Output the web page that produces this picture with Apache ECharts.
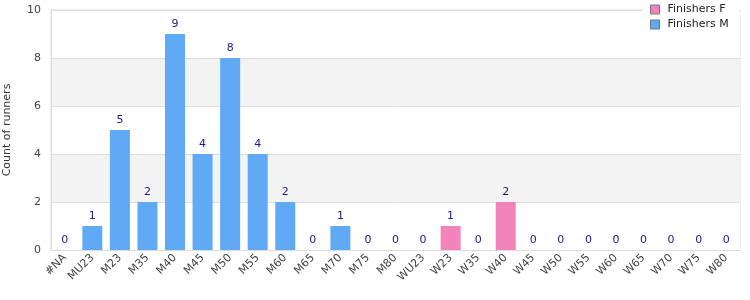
<!DOCTYPE html>
<html>
<head>
<meta charset="utf-8">
<script src="https://cdn.jsdelivr.net/npm/echarts@6/dist/echarts.min.js"></script>
<style>
  html, body { margin: 0; padding: 0; background: #fff; }
  #chart { width: 750px; height: 300px; }
</style>
</head>
<body>
<div id="chart"></div>
<script>
  var categories = ['#NA', 'MU23', 'M23', 'M35', 'M40', 'M45', 'M50', 'M55', 'M60', 'M65', 'M70', 'M75', 'M80',
    'WU23', 'W23', 'W35', 'W40', 'W45', 'W50', 'W55', 'W60', 'W65', 'W70', 'W75', 'W80']
  // null = no bar for that series in that category
  var finishersM = [0, 1, 5, 2, 9, 4, 8, 4, 2, 0, 1, 0, 0,
    null, null, null, null, null, null, null, null, null, null, null, null]
  var finishersF = [null, null, null, null, null, null, null, null, null, null, null, null, null,
    0, 1, 0, 2, 0, 0, 0, 0, 0, 0, 0, 0]
  var yTicks = { min: 0, max: 10, interval: 2 }

  var font = 'DejaVu Sans'
  var chart = echarts.init(document.getElementById('chart'))

  var labelStyle = {
    show: true,
    position: 'top',
    color: '#1a1a8c',
    fontFamily: font,
    fontSize: 11,
    distance: 4
  }

  var option = {
    animation: false,
    color: ['#f383bb', '#60a9f5'],
    grid: {
      left: 51,
      right: 10,
      top: 10,
      bottom: 50,
      outerBoundsMode: 'none',
      containLabel: false,
      show: true,
      borderColor: '#dddddd',
      borderWidth: 1
    },
    legend: {
      orient: 'vertical',
      left: 643,
      top: 2,
      padding: [2, 10, 2, 7],
      backgroundColor: '#fff',
      itemWidth: 9,
      itemHeight: 9,
      itemGap: 4,
      icon: 'rect',
      textStyle: { fontFamily: font, fontSize: 11, color: '#222', padding: [0, 0, 0, 3] },
      itemStyle: { borderColor: '#777', borderWidth: 1 },
      data: ['Finishers F', 'Finishers M']
    },
    xAxis: {
      type: 'category',
      data: categories,
      axisLine: { lineStyle: { color: '#dddddd' } },
      axisTick: { show: false },
      axisLabel: {
        rotate: 45,
        interval: 0,
        color: '#444',
        fontFamily: font,
        fontSize: 11,
        margin: 6
      }
    },
    yAxis: {
      type: 'value',
      min: yTicks.min,
      max: yTicks.max,
      interval: yTicks.interval,
      name: 'Count of runners',
      nameLocation: 'middle',
      nameGap: 38,
      nameTextStyle: { fontFamily: font, fontSize: 11, color: '#333' },
      axisLine: { show: true, lineStyle: { color: '#dddddd' } },
      axisTick: { show: false },
      axisLabel: { color: '#444', fontFamily: font, fontSize: 11, margin: 10 },
      splitLine: { lineStyle: { color: '#dddddd' } },
      splitArea: { show: true, areaStyle: { color: ['#ffffff', '#f3f3f3'] } }
    },
    series: [
      {
        name: 'Finishers F',
        type: 'bar',
        stack: 'total',
        barWidth: 20,
        data: finishersF,
        label: labelStyle
      },
      {
        name: 'Finishers M',
        type: 'bar',
        stack: 'total',
        barWidth: 20,
        data: finishersM,
        label: labelStyle
      }
    ]
  }

  chart.setOption(option)
</script>
</body>
</html>
